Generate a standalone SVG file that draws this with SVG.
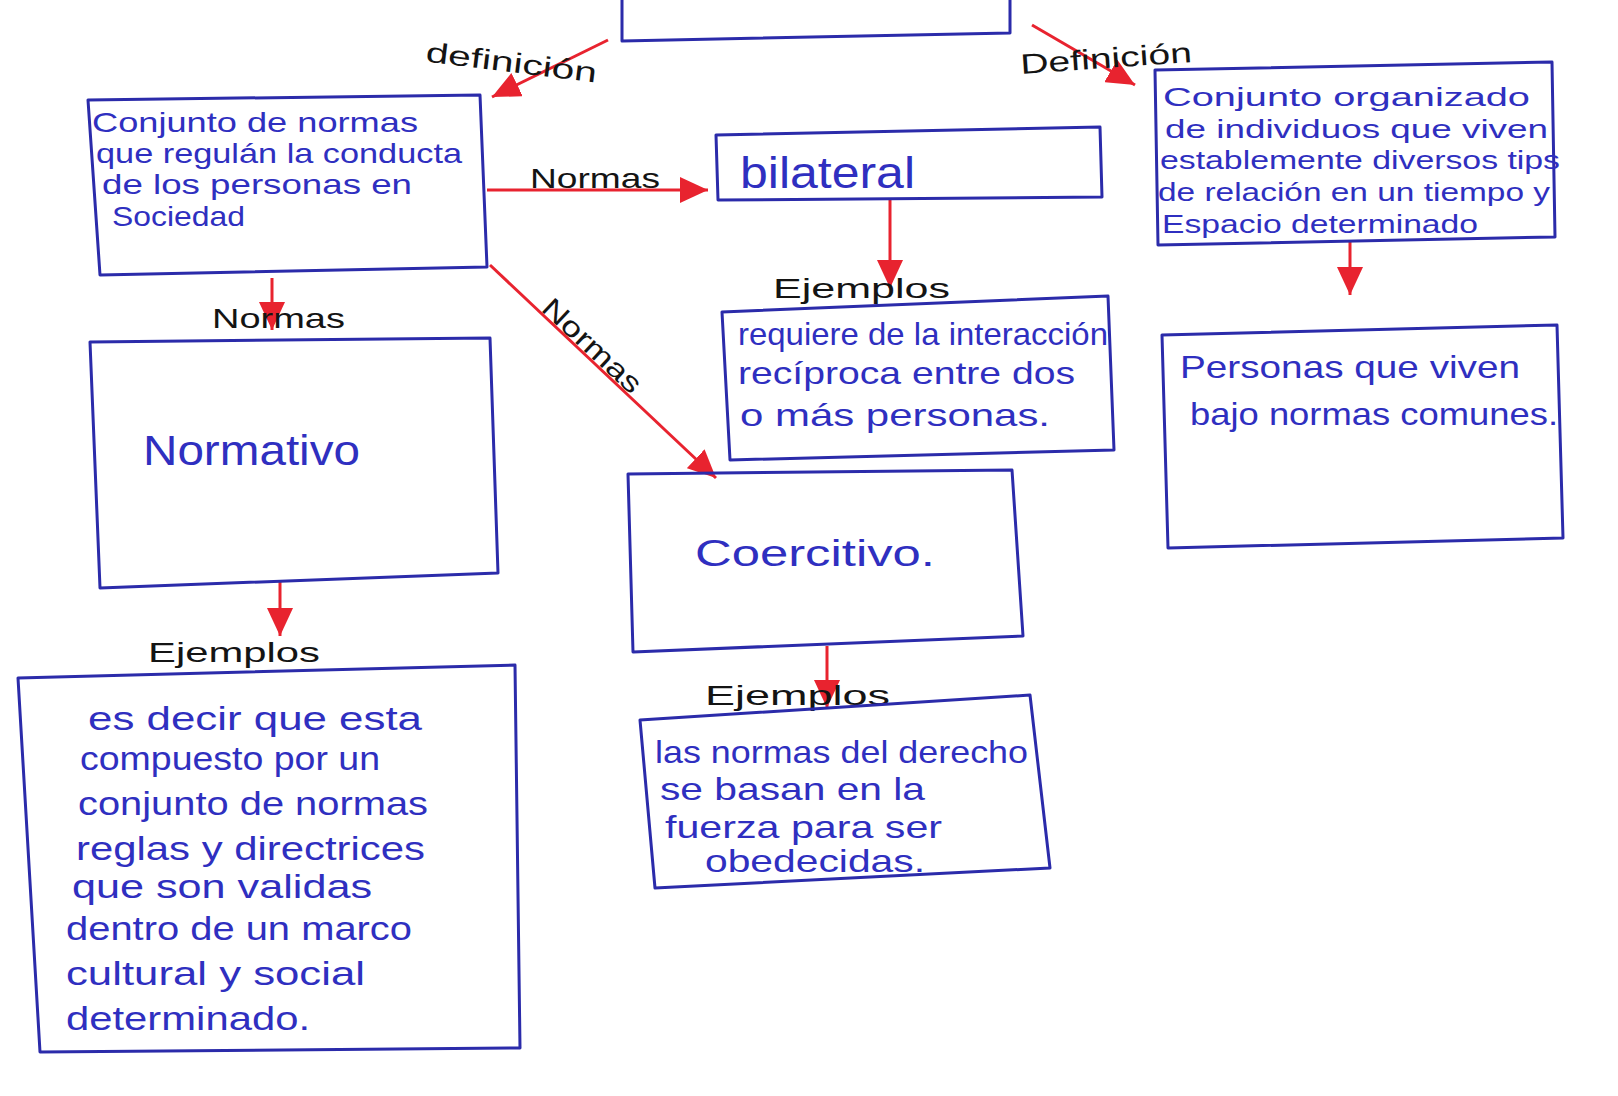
<svg xmlns="http://www.w3.org/2000/svg" width="1618" height="1096" viewBox="0 0 1618 1096">
<defs>
<marker id="ah" markerUnits="userSpaceOnUse" markerWidth="30" markerHeight="26" refX="28" refY="13" orient="auto">
<path d="M0,0 L28,13 L0,26 Z" fill="#e8232f"/>
</marker>
<style>
.box{fill:none;stroke:#2b2baa;stroke-width:3;stroke-linejoin:round}
.t{font-family:"Liberation Sans",Arial,sans-serif;fill:#2f2fc0}
.lbl{font-family:"Liberation Sans",Arial,sans-serif;fill:#141414;font-size:28px}
.con{stroke:#e8232f;stroke-width:3;fill:none;marker-end:url(#ah)}
</style>
</defs>
<rect width="1618" height="1096" fill="#ffffff"/>

<g id="connectors">
<line class="con" x1="608" y1="40" x2="492" y2="97"/>
<line class="con" x1="1032" y1="25" x2="1135" y2="85"/>
<line class="con" x1="487" y1="190" x2="708" y2="190"/>
<line class="con" x1="890" y1="200" x2="890" y2="288"/>
<line class="con" x1="272" y1="278" x2="272" y2="330"/>
<line class="con" x1="490" y1="265" x2="716" y2="478"/>
<line class="con" x1="280" y1="582" x2="280" y2="636"/>
<line class="con" x1="827" y1="646" x2="827" y2="708"/>
<line class="con" x1="1350" y1="240" x2="1350" y2="295"/>
<text class="lbl" x="425" y="72" transform="rotate(7 510 66)" textLength="172" lengthAdjust="spacingAndGlyphs">definición</text>
<text class="lbl" x="1020" y="68" transform="rotate(-4 1105 58)" textLength="172" lengthAdjust="spacingAndGlyphs">Definición</text>
<text class="lbl" x="530" y="188" textLength="130" lengthAdjust="spacingAndGlyphs">Normas</text>
<text class="lbl" x="212" y="328" textLength="133" lengthAdjust="spacingAndGlyphs">Normas</text>
<text class="lbl" x="540" y="310" transform="rotate(43 540 310)" textLength="125" lengthAdjust="spacingAndGlyphs">Normas</text>
<text class="lbl" x="773" y="298" font-size="32" textLength="177" lengthAdjust="spacingAndGlyphs">Ejemplos</text>
<text class="lbl" x="148" y="662" font-size="32" textLength="172" lengthAdjust="spacingAndGlyphs">Ejemplos</text>
<text class="lbl" x="705" y="705" font-size="32" textLength="185" lengthAdjust="spacingAndGlyphs">Ejemplos</text>
</g>

<g id="top">
<path class="box" d="M622,0 L622,41 L1010,33 L1010,0"/>
</g>

<g id="def-left">
<path class="box" d="M88,100 L480,95 L487,267 L100,275 Z"/>
<text class="t" font-size="28"><tspan x="92" y="132" textLength="326" lengthAdjust="spacingAndGlyphs">Conjunto de normas</tspan><tspan x="96" y="163" textLength="366" lengthAdjust="spacingAndGlyphs">que regulán la conducta</tspan><tspan x="102" y="194" textLength="310" lengthAdjust="spacingAndGlyphs">de los personas en</tspan><tspan x="112" y="226" textLength="133" lengthAdjust="spacingAndGlyphs">Sociedad</tspan></text>
</g>

<g id="def-right">
<path class="box" d="M1155,70 L1552,62 L1555,237 L1158,245 Z"/>
<text class="t" font-size="26"><tspan x="1163" y="106" textLength="367" lengthAdjust="spacingAndGlyphs">Conjunto organizado</tspan><tspan x="1165" y="138" textLength="383" lengthAdjust="spacingAndGlyphs">de individuos que viven</tspan><tspan x="1160" y="169" textLength="400" lengthAdjust="spacingAndGlyphs">establemente diversos tips</tspan><tspan x="1158" y="201" textLength="392" lengthAdjust="spacingAndGlyphs">de relación en un tiempo y</tspan><tspan x="1162" y="233" textLength="316" lengthAdjust="spacingAndGlyphs">Espacio determinado</tspan></text>
</g>

<g id="bilateral">
<path class="box" d="M716,135 L1100,127 L1102,197 L718,200 Z"/>
<text class="t" font-size="44" x="740" y="188" textLength="175" lengthAdjust="spacingAndGlyphs">bilateral</text>
</g>

<g id="ej-bilateral">
<path class="box" d="M722,312 L1108,296 L1114,450 L730,460 Z"/>
<text class="t" font-size="32"><tspan x="738" y="345" textLength="370" lengthAdjust="spacingAndGlyphs">requiere de la interacción</tspan><tspan x="738" y="384" textLength="337" lengthAdjust="spacingAndGlyphs">recíproca entre dos</tspan><tspan x="740" y="426" textLength="310" lengthAdjust="spacingAndGlyphs">o más personas.</tspan></text>
</g>

<g id="ej-sociedad">
<path class="box" d="M1162,335 L1557,325 L1563,538 L1168,548 Z"/>
<text class="t" font-size="32"><tspan x="1180" y="378" textLength="340" lengthAdjust="spacingAndGlyphs">Personas que viven</tspan><tspan x="1190" y="425" textLength="368" lengthAdjust="spacingAndGlyphs">bajo normas comunes.</tspan></text>
</g>

<g id="normativo">
<path class="box" d="M90,342 L490,338 L498,573 L100,588 Z"/>
<text class="t" font-size="42" x="143" y="465" textLength="217" lengthAdjust="spacingAndGlyphs">Normativo</text>
</g>

<g id="coercitivo">
<path class="box" d="M628,474 L1012,470 L1023,636 L633,652 Z"/>
<text class="t" font-size="36" x="695" y="566" textLength="240" lengthAdjust="spacingAndGlyphs">Coercitivo.</text>
</g>

<g id="ej-normativo">
<path class="box" d="M18,678 L515,665 L520,1048 L40,1052 Z"/>
<text class="t" font-size="33"><tspan x="88" y="730" textLength="334" lengthAdjust="spacingAndGlyphs">es decir que esta</tspan><tspan x="80" y="770" textLength="300" lengthAdjust="spacingAndGlyphs">compuesto por un</tspan><tspan x="78" y="815" textLength="350" lengthAdjust="spacingAndGlyphs">conjunto de normas</tspan><tspan x="76" y="860" textLength="349" lengthAdjust="spacingAndGlyphs">reglas y directrices</tspan><tspan x="72" y="898" textLength="300" lengthAdjust="spacingAndGlyphs">que son validas</tspan><tspan x="66" y="940" textLength="346" lengthAdjust="spacingAndGlyphs">dentro de un marco</tspan><tspan x="66" y="985" textLength="299" lengthAdjust="spacingAndGlyphs">cultural y social</tspan><tspan x="66" y="1030" textLength="244" lengthAdjust="spacingAndGlyphs">determinado.</tspan></text>
</g>

<g id="ej-coercitivo">
<path class="box" d="M640,720 L1030,695 L1050,868 L655,888 Z"/>
<text class="t" font-size="32"><tspan x="655" y="763" textLength="373" lengthAdjust="spacingAndGlyphs">las normas del derecho</tspan><tspan x="660" y="800" textLength="265" lengthAdjust="spacingAndGlyphs">se basan en la</tspan><tspan x="665" y="838" textLength="277" lengthAdjust="spacingAndGlyphs">fuerza para ser</tspan><tspan x="705" y="872" textLength="220" lengthAdjust="spacingAndGlyphs">obedecidas.</tspan></text>
</g>
</svg>
